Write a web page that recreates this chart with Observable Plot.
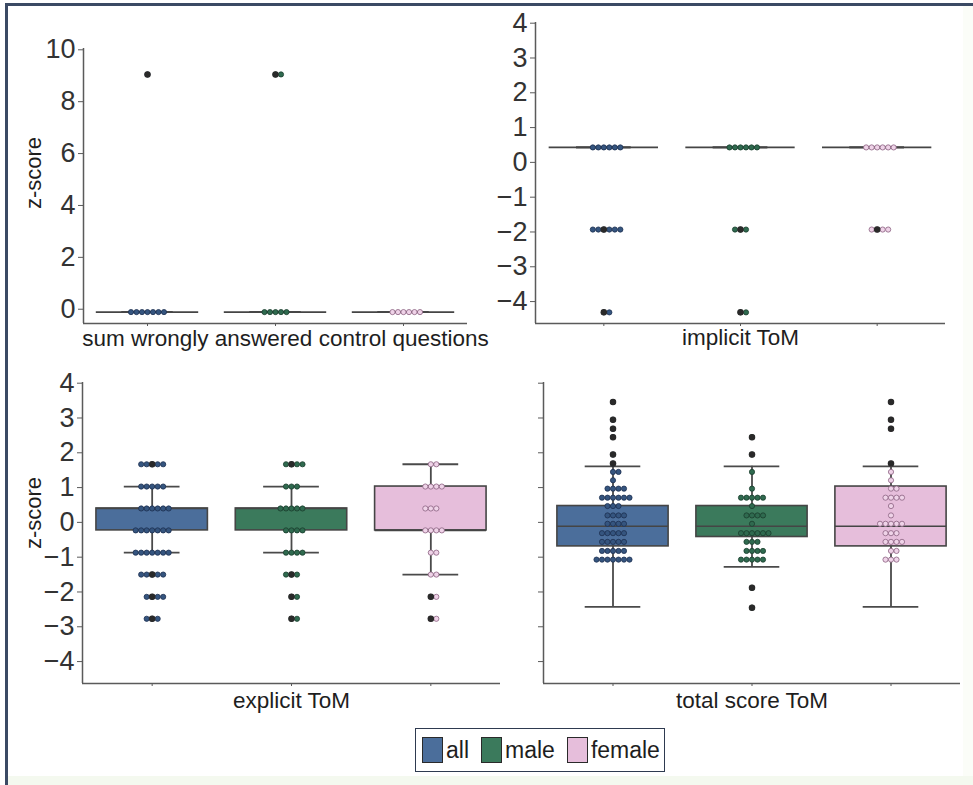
<!DOCTYPE html>
<html>
<head>
<meta charset="utf-8">
<script src="https://cdn.jsdelivr.net/npm/d3@7"></script>
<script src="https://cdn.jsdelivr.net/npm/@observablehq/plot@0.6"></script>
<style>
  html, body { margin: 0; padding: 0; background: #ffffff; }
  #page { position: relative; width: 973px; height: 785px; overflow: hidden; background: #ffffff;
          font-family: "Liberation Sans", Arial, sans-serif; }
  #frame { position: absolute; left: 5px; top: 3px; right: 0; bottom: 0;
           border-top: 3px solid #3b4a64; border-left: 3px solid #3b4a64; }
  #bottomStrip { position: absolute; left: 8px; right: 0; top: 776px; height: 9px; background: #f4f9ef; }
  #rightStrip { position: absolute; right: 0; top: 6px; width: 10px; bottom: 0; background: #fbfdf8; }
  .panel { position: absolute; }
  .panel svg { overflow: visible; }
  #legend { position: absolute; left: 415px; top: 728px; width: 250px; height: 44px; box-sizing: border-box;
            border: 1.5px solid #2e3a50; background: #ffffff; display: flex; align-items: center;
            padding-left: 6px; font-size: 23px; color: #1e1e1e; }
  #legend .sw { display: inline-block; width: 21px; height: 26px; box-sizing: border-box;
                border: 1.5px solid #2a2a2a; margin-right: 3px; }
  #legend .item { display: inline-flex; align-items: center; margin-right: 12px; }
</style>
</head>
<body>
<div id="page">
  <div id="rightStrip"></div>
  <div id="bottomStrip"></div>
  <div id="frame"></div>
  <div id="legend"></div>
</div>
<script>
// ---------- data ----------
const groups = ["all", "male", "female"];
const boxColors = ["#4b6e9b", "#3b7a5c", "#e6bedb"];
const dotFill = ["#35557f", "#2f6a4f", "#efd3e8"];
const dotStroke = ["#1d3050", "#1b3d2d", "#8a6180"];
const flierColor = "#2a2a2a";

const panelTitles = ["sum wrongly answered control questions", "implicit ToM", "explicit ToM", "total score ToM"];
const yLabel = "z-score";
const ticksControl = [0, 2, 4, 6, 8, 10];
const ticksZ = [-4, -3, -2, -1, 0, 1, 2, 3, 4];

// box statistics: [whisker low, Q1, median, Q3, whisker high] for all, male, female
const statsControl = [[-0.11, -0.11, -0.11, -0.11, -0.11], [-0.11, -0.11, -0.11, -0.11, -0.11], [-0.11, -0.11, -0.11, -0.11, -0.11]];
const statsImplicit = [[0.43, 0.43, 0.43, 0.43, 0.43], [0.43, 0.43, 0.43, 0.43, 0.43], [0.43, 0.43, 0.43, 0.43, 0.43]];
const statsExplicit = [[-0.87, -0.23, 0.40, 0.40, 1.03], [-0.87, -0.23, 0.40, 0.40, 1.03], [-1.50, -0.23, -0.23, 1.03, 1.67]];
const statsTotal = [[-2.43, -0.69, -0.11, 0.47, 1.61], [-1.28, -0.42, -0.11, 0.47, 1.61], [-2.43, -0.69, -0.11, 1.03, 1.61]];

// individual z-scores (swarm points)
const controlAll = [9.05, -0.11, -0.11, -0.11, -0.11, -0.11, -0.11, -0.11];
const controlMale = [9.05, 9.05, -0.11, -0.11, -0.11, -0.11, -0.11];
const controlFemale = [-0.11, -0.11, -0.11, -0.11, -0.11, -0.11];

const implicitAll = [0.43, 0.43, 0.43, 0.43, 0.43, 0.43, -1.93, -1.93, -1.93, -1.93, -1.93, -1.93, -4.31, -4.31];
const implicitMale = [0.43, 0.43, 0.43, 0.43, 0.43, 0.43, -1.93, -1.93, -1.93, -4.31, -4.31];
const implicitFemale = [0.43, 0.43, 0.43, 0.43, 0.43, 0.43, -1.93, -1.93, -1.93, -1.93];

const explicitAll = [1.67, 1.67, 1.67, 1.67, 1.67, 1.03, 1.03, 1.03, 1.03, 1.03,
  0.40, 0.40, 0.40, 0.40, 0.40, 0.40, -0.23, -0.23, -0.23, -0.23, -0.23, -0.23, -0.23,
  -0.87, -0.87, -0.87, -0.87, -0.87, -0.87, -0.87, -1.50, -1.50, -1.50, -1.50, -1.50,
  -2.14, -2.14, -2.14, -2.14, -2.77, -2.77, -2.77];
const explicitMale = [1.67, 1.67, 1.67, 1.67, 1.03, 1.03, 1.03, 0.40, 0.40, 0.40, 0.40, 0.40,
  -0.23, -0.23, -0.23, -0.23, -0.87, -0.87, -0.87, -0.87, -1.50, -1.50, -1.50,
  -2.14, -2.14, -2.77, -2.77];
const explicitFemale = [1.67, 1.67, 1.03, 1.03, 1.03, 1.03, 0.40, 0.40, 0.40,
  -0.23, -0.23, -0.23, -0.23, -0.87, -0.87, -1.50, -1.50, -2.14, -2.14, -2.77, -2.77];

const totalAll = [3.46, 2.95, 2.69, 2.45, 1.95, 1.69, 1.45, 1.45, 1.21,
  0.97, 0.97, 0.97, 0.97, 0.71, 0.71, 0.71, 0.71, 0.71, 0.71, 0.47, 0.47, 0.47,
  0.20, 0.20, 0.20, 0.20, -0.04, -0.04, -0.04, -0.04, -0.31, -0.31, -0.31, -0.31, -0.31,
  -0.56, -0.56, -0.56, -0.56, -0.56, -0.82, -0.82, -0.82, -0.82, -0.82,
  -1.07, -1.07, -1.07, -1.07, -1.07, -1.07, -1.07];
const totalMale = [2.45, 1.95, 1.45, 0.97, 0.71, 0.71, 0.71, 0.71, 0.71, 0.47,
  0.20, 0.20, 0.20, 0.20, -0.04, -0.31, -0.31, -0.31, -0.31, -0.31, -0.31,
  -0.56, -0.56, -0.56, -0.82, -0.82, -0.82, -0.82, -1.07, -1.07, -1.07, -1.07, -1.07, -1.88, -2.45];
const totalFemale = [3.46, 2.95, 2.69, 1.69, 1.45, 1.21, 0.97, 0.97, 0.71, 0.71, 0.71, 0.71, 0.47, 0.20,
  -0.04, -0.04, -0.04, -0.04, -0.04, -0.31, -0.31, -0.31, -0.56, -0.56, -0.56, -0.56,
  -0.82, -0.82, -1.07, -1.07, -1.07];

// ---------- helpers ----------
function swarmOffsets(vals, pxY, diam) {
  const order = vals.map((v, i) => i).sort((a, b) => vals[a] - vals[b]);
  const placed = [];
  const out = new Array(vals.length).fill(0);
  for (const i of order) {
    const y = vals[i] * pxY;
    let chosen = 0;
    for (let k = 0; k < 600; k++) {
      const c = k === 0 ? 0 : (k % 2 ? 1 : -1) * Math.ceil(k / 2) * 0.5;
      if (placed.every(p => (p.x - c) ** 2 + (p.y - y) ** 2 >= diam * diam - 1e-6)) { chosen = c; break; }
    }
    placed.push({x: chosen, y});
    out[i] = chosen;
  }
  return out;
}

const FONT = "'Liberation Sans', Arial, sans-serif";
const minusFmt = d => (d < 0 ? "\u2212" + Math.abs(d) : String(d));

function panel(cfg) {
  const {left, top, width, height, mt, mb, ml, mr, domain, ticks, showTickLabels, title, titleDx, titleDy,
         stats, points, yLab, yLabDx, yLabDy} = cfg;
  const fw = width - ml - mr, fh = height - mt - mb;
  const pxY = fh / (domain[1] - domain[0]);
  const band = fw / 3;
  const marks = [];
  // axis lines
  marks.push(Plot.ruleX([-0.5], {stroke: "#5a5a5a", strokeWidth: 1.5}));
  marks.push(Plot.ruleY([domain[0]], {stroke: "#5a5a5a", strokeWidth: 1.5}));
  // y tick labels
  if (showTickLabels) {
    marks.push(Plot.text(ticks, {x: () => -0.5, y: d => d, text: minusFmt, dx: -8, textAnchor: "end",
      fontSize: 27, fill: "#333333"}));
  }
  groups.forEach((g, gi) => {
    const s = stats[gi];
    const box = [{gi, lo: s[0], q1: s[1], med: s[2], q3: s[3], hi: s[4]}];
    marks.push(Plot.ruleX(box, {x: "gi", y1: "lo", y2: "q1", stroke: "#4a4a4a", strokeWidth: 1.8}));
    marks.push(Plot.ruleX(box, {x: "gi", y1: "q3", y2: "hi", stroke: "#4a4a4a", strokeWidth: 1.8}));
    marks.push(Plot.ruleY(box, {y: "lo", x1: d => d.gi - 0.2, x2: d => d.gi + 0.2, stroke: "#4a4a4a", strokeWidth: 1.8}));
    marks.push(Plot.ruleY(box, {y: "hi", x1: d => d.gi - 0.2, x2: d => d.gi + 0.2, stroke: "#4a4a4a", strokeWidth: 1.8}));
    marks.push(Plot.rect(box, {x1: d => d.gi - 0.4, x2: d => d.gi + 0.4, y1: "q1", y2: "q3",
      fill: boxColors[gi], stroke: "#454545", strokeWidth: 1.6}));
    marks.push(Plot.ruleY(box, {y: "med", x1: d => d.gi - 0.4, x2: d => d.gi + 0.4, stroke: "#454545", strokeWidth: 1.6}));
  });
  groups.forEach((g, gi) => {
    const vals = points[gi];
    const offs = swarmOffsets(vals, pxY, 5.2);
    const dots = vals.map((v, i) => ({v, x: gi + offs[i] / band}));
    marks.push(Plot.dot(dots, {x: "x", y: "v", r: 2.6, fill: dotFill[gi], stroke: dotStroke[gi], strokeWidth: 0.8}));
  });
  groups.forEach((g, gi) => {
    const [lo, , , , hi] = stats[gi];
    const fl = Array.from(new Set(points[gi].filter(v => v < lo - 1e-9 || v > hi + 1e-9))).map(v => ({gi, v}));
    marks.push(Plot.dot(fl, {x: "gi", y: "v", r: 2.5, fill: flierColor, stroke: flierColor}));
  });
  marks.push(Plot.text([title], {frameAnchor: "bottom", dx: titleDx, dy: titleDy, text: d => d,
    fontSize: 22.5, fill: "#1e1e1e"}));
  if (yLab) {
    marks.push(Plot.text([yLab], {frameAnchor: "left", dx: yLabDx, dy: yLabDy, rotate: -90, textAnchor: "middle",
      text: d => d, fontSize: 22, fill: "#1e1e1e"}));
  }
  const svg = Plot.plot({
    width, height, marginTop: mt, marginBottom: mb, marginLeft: ml, marginRight: mr,
    x: {domain: [-0.5, 2.5], ticks: [0, 1, 2], tickFormat: () => "", tickSize: 3, label: null},
    y: {domain, ticks, tickSize: 5, tickPadding: 3, label: null, tickFormat: () => ""},
    style: {fontFamily: FONT, fontSize: "20px", color: "#5a5a5a", background: "transparent", overflow: "visible"},
    marks
  });
  const div = document.createElement("div");
  div.className = "panel";
  div.style.left = left + "px";
  div.style.top = top + "px";
  div.style.width = width + "px";
  div.style.height = height + "px";
  div.appendChild(svg);
  document.getElementById("page").insertBefore(div, document.getElementById("legend"));
}

panel({left: 0, top: 0, width: 490, height: 360, mt: 48, mb: 37, ml: 83, mr: 23,
  domain: [-0.55, 10.05], ticks: ticksControl, showTickLabels: true, title: panelTitles[0], titleDx: 10, titleDy: 22,
  stats: statsControl, points: [controlAll, controlMale, controlFemale], yLab: yLabel, yLabDx: -50, yLabDy: -13});
panel({left: 480, top: 0, width: 493, height: 360, mt: 22, mb: 37, ml: 55, mr: 28,
  domain: [-4.63, 4.02], ticks: ticksZ, showTickLabels: true, title: panelTitles[1], titleDx: 0, titleDy: 21,
  stats: statsImplicit, points: [implicitAll, implicitMale, implicitFemale]});
panel({left: 0, top: 360, width: 510, height: 360, mt: 22, mb: 37, ml: 82, mr: 10,
  domain: [-4.63, 4.02], ticks: ticksZ, showTickLabels: true, title: panelTitles[2], titleDx: 0, titleDy: 24,
  stats: statsExplicit, points: [explicitAll, explicitMale, explicitFemale], yLab: yLabel, yLabDx: -49, yLabDy: -20});
panel({left: 490, top: 360, width: 483, height: 360, mt: 22, mb: 37, ml: 53, mr: 13,
  domain: [-4.63, 4.02], ticks: ticksZ, showTickLabels: false, title: panelTitles[3], titleDx: 0, titleDy: 24,
  stats: statsTotal, points: [totalAll, totalMale, totalFemale]});

// ---------- legend ----------
const legend = document.getElementById("legend");
groups.forEach((g, i) => {
  const item = document.createElement("span");
  item.className = "item";
  const sw = document.createElement("span");
  sw.className = "sw";
  sw.style.background = boxColors[i];
  const lab = document.createElement("span");
  lab.textContent = g;
  item.appendChild(sw);
  item.appendChild(lab);
  legend.appendChild(item);
});
</script>
</body>
</html>
